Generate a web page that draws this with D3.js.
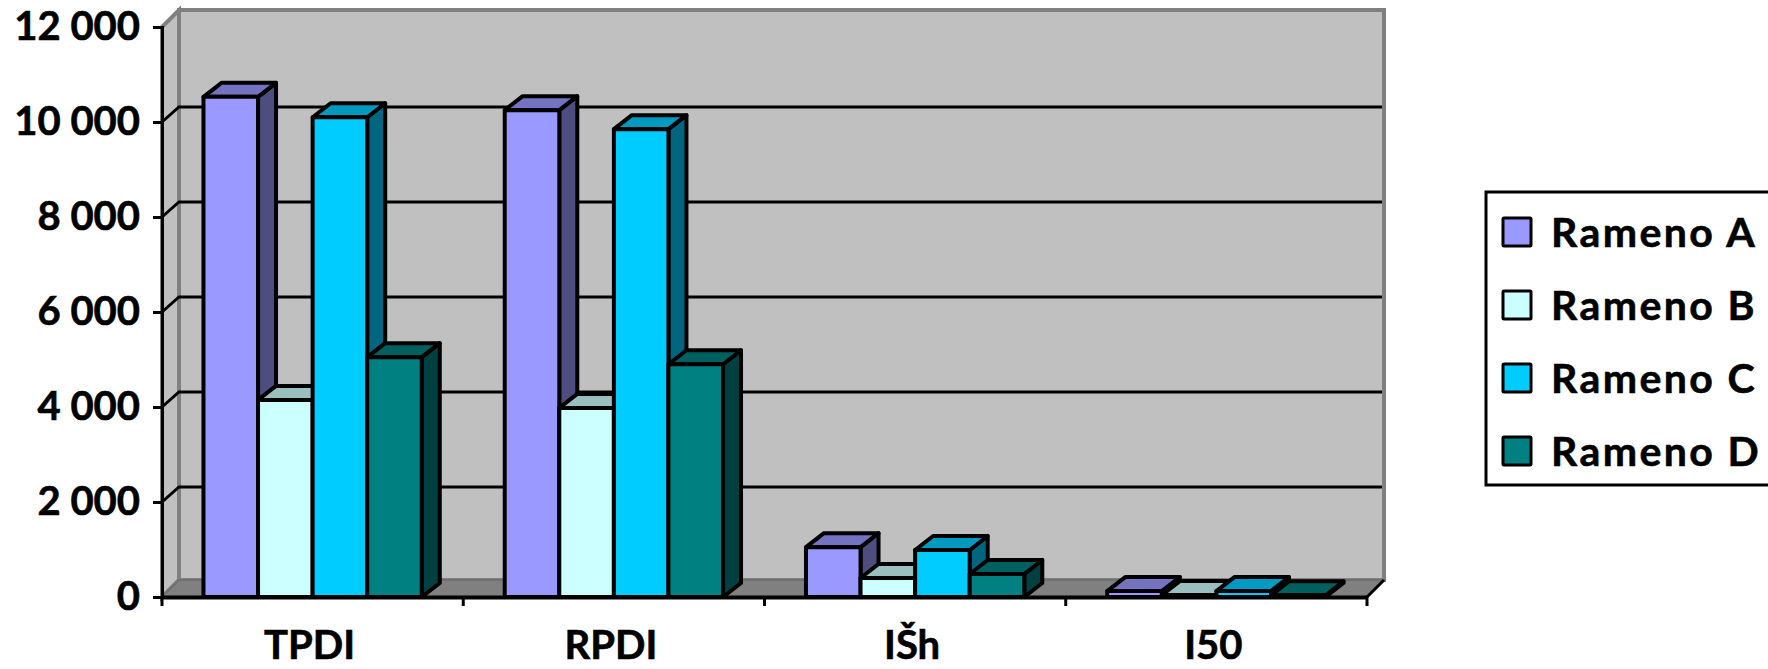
<!DOCTYPE html>
<html lang="en">
<head>
    <meta charset="UTF-8">
    <title>Rameno A-D</title>
    <script src="https://d3js.org/d3.v7.min.js"></script>
    <style>
        body{
            margin: 0;
            background: #fff;
        }
        svg{
            display: block;
        }
        text {
            font-family: 'Lato', sans-serif;
            font-weight: 700;
            fill: #000;
            stroke: #000;
            stroke-width: 0.6px;
        }
    </style>
</head>
<body>
    <svg id="chart" width="1768" height="669"></svg>

    <script>
        // Data
        const categories = ["TPDI", "RPDI", "IŠh", "I50"];
        const seriesNames = ["Rameno A", "Rameno B", "Rameno C", "Rameno D"];
        const ramenoA = [10530, 10250, 1050, 125];
        const ramenoB = [4150, 3980, 400, 40];
        const ramenoC = [10100, 9850, 990, 125];
        const ramenoD = [5050, 4900, 485, 35];
        const seriesValues = [ramenoA, ramenoB, ramenoC, ramenoD];
        const yTicks = [0, 2000, 4000, 6000, 8000, 10000, 12000];

        // front, top, side of each box
        const colors = [
            ["#9999FF", "#7373BF", "#4D4D80"],
            ["#CCFFFF", "#99BFBF", "#668080"],
            ["#00CCFF", "#0099BF", "#006680"],
            ["#008080", "#006060", "#004040"]
        ];

        const plotLeft = 162, plotRight = 1367, plotTop = 27, plotBottom = 597;
        const wallDx = 17, wallDy = 17;   // depth of the walls
        const gridDy = 15;                // gridlines sit a bit lower on the back wall
        const barDx = 18, barDy = 14;     // depth of the bars

        const svg = d3.select("#chart");

        const x = d3.scaleBand().domain(categories).range([plotLeft, plotRight]);
        const xInner = d3.scaleBand().domain(d3.range(seriesNames.length))
            .range([0, x.bandwidth()]).paddingInner(0).paddingOuter(0.76);
        const y = d3.scaleLinear().domain([0, 12000]).range([plotBottom, plotTop]);

        const poly = pts => pts.map(p => p.join(",")).join(" ");

        // Walls and floor
        svg.append("polygon")
            .attr("points", poly([[plotLeft + wallDx, plotTop - wallDy], [plotRight + wallDx, plotTop - wallDy], [plotRight + wallDx, plotBottom - wallDy], [plotLeft + wallDx, plotBottom - wallDy]]))
            .attr("fill", "#C0C0C0").attr("stroke", "#808080").attr("stroke-width", 4);
        svg.append("polygon")
            .attr("points", poly([[plotLeft, plotTop], [plotLeft + wallDx, plotTop - wallDy], [plotLeft + wallDx, plotBottom - wallDy], [plotLeft, plotBottom]]))
            .attr("fill", "#C0C0C0").attr("stroke", "#808080").attr("stroke-width", 4);
        svg.append("polygon")
            .attr("points", poly([[plotLeft, plotBottom], [plotLeft + wallDx, plotBottom - wallDy], [plotRight + wallDx, plotBottom - wallDy], [plotRight, plotBottom]]))
            .attr("fill", "#808080").attr("stroke", "#707070").attr("stroke-width", 2);

        // Gridlines, with the slanted bit on the side wall
        const gridTicks = yTicks.filter(d => d > 0 && d < 12000);
        svg.append("g").selectAll("path").data(gridTicks).join("path")
            .attr("fill", "none").attr("stroke", "#000").attr("stroke-width", 3)
            .attr("d", d => `M${plotLeft},${y(d)}L${plotLeft + wallDx},${y(d) - gridDy}H${plotRight + wallDx - 2}`);

        // Bars, left to right so that each one covers the side of the previous
        const bars = svg.append("g").attr("stroke", "#000").attr("stroke-width", 4).attr("stroke-linejoin", "round");
        categories.forEach((cat, c) => {
            seriesValues.forEach((values, s) => {
                const x0 = x(cat) + xInner(s);
                const x1 = x0 + xInner.bandwidth();
                const yt = y(values[c]);
                bars.append("polygon")
                    .attr("points", poly([[x1, yt], [x1 + barDx, yt - barDy], [x1 + barDx, plotBottom - barDy], [x1, plotBottom]]))
                    .attr("fill", colors[s][2]);
                bars.append("polygon")
                    .attr("points", poly([[x0, yt], [x0 + barDx, yt - barDy], [x1 + barDx, yt - barDy], [x1, yt]]))
                    .attr("fill", colors[s][1]);
                bars.append("rect")
                    .attr("x", x0).attr("y", yt)
                    .attr("width", x1 - x0).attr("height", plotBottom - yt)
                    .attr("fill", colors[s][0]);
            });
        });

        // Axes
        const spaced = d3.formatLocale({decimal: ".", thousands: " ", grouping: [3], currency: ["", ""]}).format(",");
        const yAxis = d3.axisLeft(y).tickValues(yTicks).tickFormat(spaced).tickSize(9).tickPadding(13);
        const gy = svg.append("g").attr("transform", `translate(${plotLeft},0)`).call(yAxis);
        gy.selectAll("line, path").attr("stroke", "#000").attr("stroke-width", 3);
        gy.selectAll("text").attr("font-size", 40).attr("font-family", "Lato").attr("font-weight", 700).attr("dy", "0.3em");

        const xAxis = d3.axisBottom(x).tickSize(0).tickPadding(34);
        const gx = svg.append("g").attr("transform", `translate(0,${plotBottom})`).call(xAxis);
        gx.select(".domain").attr("stroke", "#000").attr("stroke-width", 4);
        gx.selectAll("text").attr("font-size", 40).attr("font-family", "Lato").attr("font-weight", 700).attr("dx", -3);

        // x ticks sit on the category borders
        svg.append("g").selectAll("line").data(categories.map(c => x(c)).concat([plotRight])).join("line")
            .attr("x1", d => d).attr("x2", d => d).attr("y1", plotBottom).attr("y2", plotBottom + 9)
            .attr("stroke", "#000").attr("stroke-width", 3);
        svg.append("line")
            .attr("x1", plotRight).attr("y1", plotBottom).attr("x2", plotRight + wallDx).attr("y2", plotBottom - wallDy)
            .attr("stroke", "#000").attr("stroke-width", 3);

        // Legend
        const legend = svg.append("g");
        legend.append("rect")
            .attr("x", 1486).attr("y", 192).attr("width", 290).attr("height", 293)
            .attr("fill", "#fff").attr("stroke", "#000").attr("stroke-width", 3);
        const legendY = d3.scalePoint().domain(seriesNames).range([232, 451]);
        seriesNames.forEach((name, i) => {
            legend.append("rect")
                .attr("x", 1503).attr("y", legendY(name) - 14).attr("width", 28).attr("height", 28).attr("rx", 1)
                .attr("fill", colors[i][0]).attr("stroke", "#000").attr("stroke-width", 3);
            legend.append("text")
                .attr("x", 1551).attr("y", legendY(name) + 15)
                .attr("font-size", 41)
                .attr("letter-spacing", 2.4)
                .text(name);
        });
    </script>
</body>
</html>
